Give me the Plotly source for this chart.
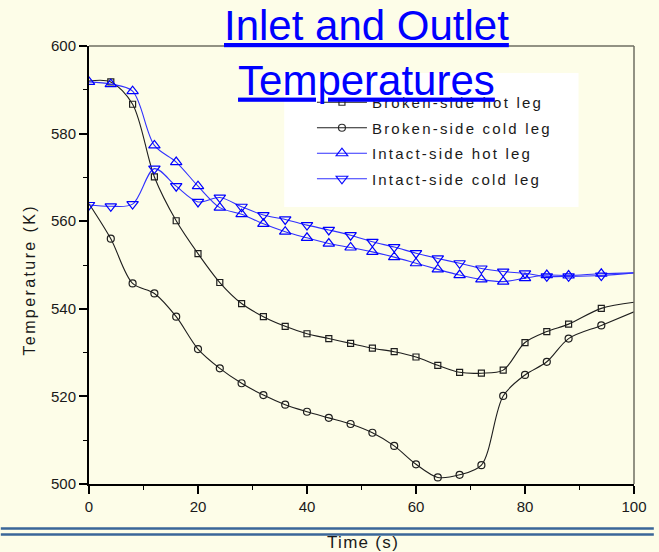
import plotly.graph_objects as go

# Time axis (s) and leg temperatures (K)
time_s = [0, 4, 8, 12, 16, 20, 24, 28, 32, 36, 40, 44, 48, 52, 56, 60, 64, 68, 72, 76, 80, 84, 88, 94, 100]

broken_hot = [592.0, 591.8, 586.7, 570.1, 560.1, 552.6, 546.0, 541.2, 538.2, 536.0, 534.3, 533.2,
              532.1, 531.0, 530.2, 529.0, 527.1, 525.5, 525.3, 526.0, 532.3, 534.8, 536.5, 540.1, 541.5]
broken_cold = [564.0, 556.0, 545.8, 543.5, 538.2, 530.8, 526.4, 523.0, 520.3, 518.1, 516.5, 515.1,
               513.7, 511.7, 508.7, 504.5, 501.5, 502.1, 504.3, 520.1, 524.9, 527.9, 533.2, 536.2, 539.3]
intact_hot = [591.8, 591.3, 589.7, 577.3, 573.5, 568.0, 563.1, 561.6, 559.4, 557.6, 556.2, 554.9,
              554.0, 553.0, 551.8, 550.4, 549.0, 547.7, 546.7, 546.2, 547.0, 547.7, 547.6, 548.0, 548.2]
intact_cold = [563.7, 563.4, 563.9, 572.0, 568.0, 564.4, 565.4, 563.3, 561.4, 560.4, 559.1, 558.0,
               556.8, 555.3, 554.1, 552.7, 551.5, 550.4, 549.2, 548.5, 548.1, 547.4, 547.4, 547.6, 548.2]

series_names = ["Broken-side hot leg", "Broken-side cold leg", "Intact-side hot leg", "Intact-side cold leg"]

x_ticks = [0, 20, 40, 60, 80, 100]
y_ticks = [500, 520, 540, 560, 580, 600]

FONT = "Arial, Liberation Sans, sans-serif"
BG = "#fdfde8"

# marker visibility per sample: the final sample only carries the line
n = len(time_s)
show_all_but_end = [1] * (n - 1) + [0]
show_mid = [0] + [1] * (n - 2) + [0]


def spaced(text, px):
    return f"<span style='letter-spacing:{px}px'>{text}</span>"


styles = [
    (broken_hot, "square-open", 6, "#1e1e1e", show_mid),
    (broken_cold, "circle-open", 7, "#1e1e1e", show_mid),
    (intact_hot, "triangle-up-open", 10, "#0000ff", show_all_but_end),
    (intact_cold, "triangle-down-open", 10, "#0000ff", show_all_but_end),
]

fig = go.Figure()
for i, (vals, sym, size, color, op) in enumerate(styles):
    fig.add_trace(go.Scatter(
        x=time_s, y=vals, mode="lines+markers",
        name=spaced(series_names[i], 2.2),
        legendgroup=f"g{i}",
        line=dict(color=color if i < 2 else "#3030ff", width=1.1, shape="spline", smoothing=0.9),
        marker=dict(symbol=sym, size=size, color=color, opacity=op, line=dict(width=1.2, color=color)),
    ))

L, R, T, B = 89, 20, 46, 68
W, H = 659, 552
pw, ph = W - L - R, H - T - B


def px_x(p):
    return (p - L) / pw


def px_y(p):
    return (H - B - p) / ph


shapes = [
    # legend backing
    dict(type="rect", xref="paper", yref="paper", x0=px_x(286), x1=px_x(583), y0=px_y(207), y1=px_y(73),
         fillcolor="white", line=dict(width=0), layer="below"),
    # top and right frame
    dict(type="line", xref="paper", yref="paper", x0=0, x1=1, y0=1, y1=1, line=dict(color="#6e6e62", width=1.5)),
    dict(type="line", xref="paper", yref="paper", x0=1, x1=1, y0=0, y1=1, line=dict(color="#6e6e62", width=1.5)),
    # double rule across the slide
    dict(type="line", xref="paper", yref="paper", x0=px_x(0), x1=px_x(W), y0=px_y(528.5), y1=px_y(528.5),
         line=dict(color="#3a6699", width=2.3)),
    dict(type="line", xref="paper", yref="paper", x0=px_x(0), x1=px_x(W), y0=px_y(534.5), y1=px_y(534.5),
         line=dict(color="#3a6699", width=2.3)),
]

annotations = [
    dict(text="<u>Inlet and Outlet</u><br><u>Temperatures</u>", xref="paper", yref="paper",
         x=px_x(369), y=px_y(0), xanchor="center", yanchor="top", showarrow=False,
         font=dict(family=FONT, size=42, color="#0000ff")),
    dict(text=spaced("Temperature (K)", 2.4), xref="paper", yref="paper", textangle=-90,
         x=px_x(28), y=px_y(280), xanchor="center", yanchor="middle", showarrow=False,
         font=dict(family=FONT, size=16, color="#1a1a1a")),
    dict(text=spaced("Time (s)", 1.3), xref="paper", yref="paper",
         x=px_x(366), y=px_y(542), xanchor="center", yanchor="middle", showarrow=False,
         font=dict(family=FONT, size=17, color="#1a1a1a")),
]

axis_common = dict(
    showgrid=False, zeroline=False, showline=True, linecolor="black", linewidth=2,
    ticks="outside", ticklen=8, tickwidth=1.5, tickcolor="black",
    tickfont=dict(family=FONT, size=15, color="#1a1a1a"),
    minor=dict(ticks="outside", ticklen=4, tickwidth=1.3, tickcolor="black", dtick=10),
)

fig.update_layout(
    width=W, height=H,
    margin=dict(l=L, r=R, t=T, b=B),
    paper_bgcolor=BG, plot_bgcolor=BG,
    xaxis=dict(range=[0, 100], tickvals=x_ticks, **axis_common),
    yaxis=dict(range=[500, 600], tickvals=y_ticks, **axis_common),
    showlegend=True,
    legend=dict(x=px_x(314), y=px_y(86), xanchor="left", yanchor="top",
                bgcolor="rgba(0,0,0,0)", tracegroupgap=3, itemwidth=50,
                font=dict(family=FONT, size=15, color="#1a1a1a")),
    shapes=shapes,
    annotations=annotations,
)

fig.write_html("out.html")
